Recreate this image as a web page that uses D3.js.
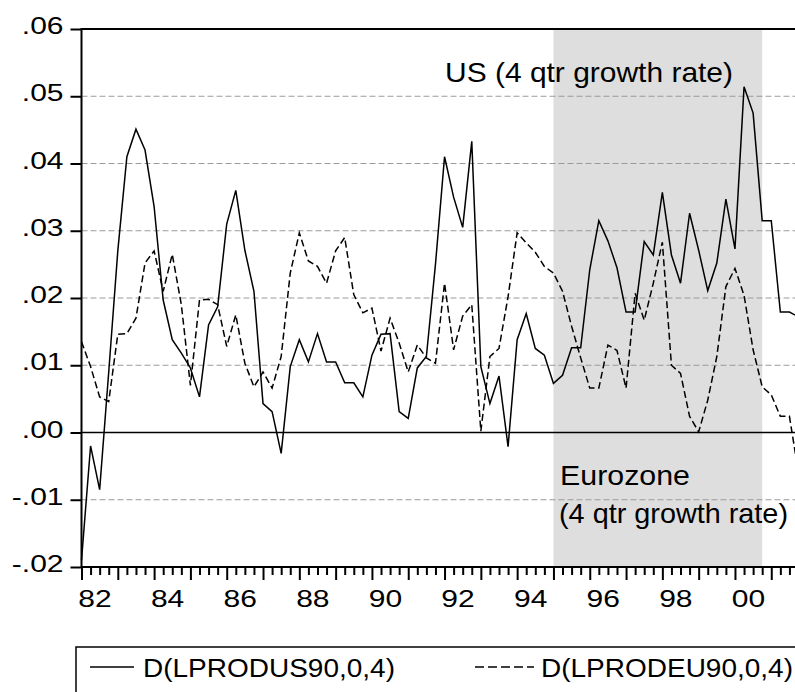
<!DOCTYPE html>
<html>
<head>
<meta charset="utf-8">
<script src="https://cdn.jsdelivr.net/npm/d3@7"></script>
<style>
  html, body { margin: 0; padding: 0; background: #fff; }
  svg { display: block; }
  text { font-family: "Liberation Sans", Arial, sans-serif; fill: #000; }
</style>
</head>
<body>
<svg id="chart" width="795" height="692"></svg>
<script>
// Quarterly observations, 1982Q1 .. 2001Q4 (year + (q-1)/4)
const startYear = 1982;
const nQuarters = 80;

// 4-quarter log growth of productivity, US
const usGrowth = [
  -0.0190, -0.0020, -0.0085, 0.0090, 0.0270, 0.0410, 0.0451, 0.0420,
   0.0336, 0.0197, 0.0138, 0.0118, 0.0096, 0.0053, 0.0160, 0.0187,
   0.0310, 0.0360, 0.0271, 0.0210, 0.0043, 0.0031, -0.0031, 0.0098,
   0.0138, 0.0105, 0.0147, 0.0105, 0.0105, 0.0074, 0.0074, 0.0053,
   0.0115, 0.0146, 0.0147, 0.0031, 0.0021, 0.0096, 0.0113, 0.0250,
   0.0410, 0.0350, 0.0305, 0.0433, 0.0098, 0.0043, 0.0084, -0.0021,
   0.0138, 0.0177, 0.0125, 0.0115, 0.0073, 0.0085, 0.0126, 0.0126,
   0.0242, 0.0315, 0.0285, 0.0245, 0.0179, 0.0179, 0.0284, 0.0264,
   0.0357, 0.0264, 0.0222, 0.0326, 0.0271, 0.0211, 0.0252, 0.0347,
   0.0273, 0.0514, 0.0475, 0.0315, 0.0315, 0.0179, 0.0179, 0.0172
];

// 4-quarter log growth of productivity, Eurozone
const euGrowth = [
   0.0135, 0.0098, 0.0053, 0.0046, 0.0146, 0.0147, 0.0170, 0.0252,
   0.0270, 0.0210, 0.0265, 0.0190, 0.0070, 0.0197, 0.0198, 0.0190,
   0.0128, 0.0175, 0.0103, 0.0068, 0.0090, 0.0066, 0.0113, 0.0237,
   0.0297, 0.0255, 0.0247, 0.0222, 0.0270, 0.0290, 0.0205, 0.0178,
   0.0185, 0.0121, 0.0170, 0.0133, 0.0090, 0.0130, 0.0111, 0.0103,
   0.0222, 0.0123, 0.0173, 0.0190, 0.0002, 0.0113, 0.0125, 0.0202,
   0.0297, 0.0282, 0.0268, 0.0247, 0.0237, 0.0210, 0.0158, 0.0111,
   0.0066, 0.0066, 0.0130, 0.0122, 0.0066, 0.0207, 0.0167, 0.0222,
   0.0283, 0.0100, 0.0088, 0.0024, 0.0001, 0.0048, 0.0113, 0.0217,
   0.0244, 0.0204, 0.0123, 0.0068, 0.0056, 0.0024, 0.0024, -0.0060
];

const yTickValues = [0.06, 0.05, 0.04, 0.03, 0.02, 0.01, 0.00, -0.01, -0.02];
const yTickLabels = [".06", ".05", ".04", ".03", ".02", ".01", ".00", "-.01", "-.02"];
const xLabelYears = [1982, 1984, 1986, 1988, 1990, 1992, 1994, 1996, 1998, 2000];
const xLabelTexts = ["82", "84", "86", "88", "90", "92", "94", "96", "98", "00"];
const shadedPeriod = [1995.0, 2000.75];
const seriesNames = ["D(LPRODUS90,0,4)", "D(LPRODEU90,0,4)"];
const annotations = ["US (4 qtr growth rate)", "Eurozone", "(4 qtr growth rate)"];

const quarters = d3.range(nQuarters).map(i => startYear + i / 4);
const usData = quarters.map((t, i) => ({ t, v: usGrowth[i] }));
const euData = quarters.map((t, i) => ({ t, v: euGrowth[i] }));

const svg = d3.select("#chart");
const plot = { left: 81.5, top: 29, right: 798.5, bottom: 567 };

const x = d3.scaleLinear()
  .domain([startYear, startYear + (nQuarters - 1) / 4])
  .range([plot.left, plot.right]);
const y = d3.scaleLinear()
  .domain([-0.02, 0.06])
  .range([plot.bottom, plot.top]);

svg.append("rect").attr("width", 795).attr("height", 692).attr("fill", "#fff");

// shaded window
svg.append("rect")
  .attr("x", x(shadedPeriod[0]))
  .attr("y", plot.top)
  .attr("width", x(shadedPeriod[1]) - x(shadedPeriod[0]))
  .attr("height", plot.bottom - plot.top)
  .attr("fill", "#dedede");

// dashed grid
svg.append("g")
  .selectAll("line")
  .data(yTickValues.filter(v => v !== 0 && v !== 0.06 && v !== -0.02))
  .join("line")
  .attr("x1", plot.left).attr("x2", plot.right)
  .attr("y1", d => y(d)).attr("y2", d => y(d))
  .attr("stroke", "#9a9a9a")
  .attr("stroke-width", 1)
  .attr("stroke-dasharray", "6,3");

// zero line
svg.append("line")
  .attr("x1", plot.left).attr("x2", plot.right)
  .attr("y1", y(0)).attr("y2", y(0))
  .attr("stroke", "#000").attr("stroke-width", 1.6);

// series
const line = d3.line().x(d => x(d.t)).y(d => y(d.v));
svg.append("path").datum(euData)
  .attr("d", line).attr("fill", "none")
  .attr("stroke", "#000").attr("stroke-width", 1.5)
  .attr("stroke-dasharray", "7,3.5");
svg.append("path").datum(usData)
  .attr("d", line).attr("fill", "none")
  .attr("stroke", "#000").attr("stroke-width", 1.5)
  .attr("stroke-linejoin", "miter");

// frame
svg.append("path")
  .attr("d", `M${plot.left},${plot.bottom}V${plot.top}H${plot.right}V${plot.bottom}Z`)
  .attr("fill", "none").attr("stroke", "#000").attr("stroke-width", 2);

// y axis ticks
const yAxis = d3.axisLeft(y).tickValues(yTickValues).tickSize(11).tickFormat("");
const gy = svg.append("g").attr("transform", `translate(${plot.left},0)`).call(yAxis);
gy.select(".domain").remove();
gy.selectAll(".tick line").attr("stroke", "#000").attr("stroke-width", 2);

const labelScale = 1.25;
svg.append("g").selectAll("text")
  .data(yTickValues)
  .join("text")
  .attr("transform", d => `translate(63.5,${y(d) + 5.2}) scale(${labelScale},1)`)
  .attr("text-anchor", "end")
  .attr("font-size", 24)
  .text((d, i) => yTickLabels[i]);

// x axis: quarterly minor ticks, yearly major ticks
const minorAxis = d3.axisBottom(x).tickValues(quarters.filter(t => t % 1 !== 0)).tickSize(8).tickFormat("");
const majorAxis = d3.axisBottom(x).tickValues(quarters.filter(t => t % 1 === 0)).tickSize(13).tickFormat("");
[minorAxis, majorAxis].forEach(ax => {
  const g = svg.append("g").attr("transform", `translate(0,${plot.bottom})`).call(ax);
  g.select(".domain").remove();
  g.selectAll(".tick line").attr("stroke", "#000").attr("stroke-width", 2);
});

svg.append("g").selectAll("text")
  .data(xLabelYears)
  .join("text")
  .attr("transform", d => `translate(${x(d) + 13.5},606.5) scale(${labelScale},1)`)
  .attr("text-anchor", "middle")
  .attr("font-size", 24)
  .text((d, i) => xLabelTexts[i]);

// annotations
svg.append("text").attr("x", 445).attr("y", 82).attr("font-size", 28)
  .attr("textLength", 288).attr("lengthAdjust", "spacingAndGlyphs").text(annotations[0]);
svg.append("text").attr("x", 560).attr("y", 485).attr("font-size", 28)
  .attr("textLength", 130).attr("lengthAdjust", "spacingAndGlyphs").text(annotations[1]);
svg.append("text").attr("x", 559).attr("y", 523).attr("font-size", 28)
  .attr("textLength", 229).attr("lengthAdjust", "spacingAndGlyphs").text(annotations[2]);

// legend
const legend = svg.append("g");
legend.append("rect").attr("x", 76).attr("y", 647).attr("width", 740).attr("height", 60)
  .attr("fill", "none").attr("stroke", "#000").attr("stroke-width", 1.5);
legend.append("line").attr("x1", 90).attr("x2", 134).attr("y1", 667).attr("y2", 667)
  .attr("stroke", "#000").attr("stroke-width", 1.5);
legend.append("text").attr("x", 143).attr("y", 677).attr("font-size", 26)
  .attr("textLength", 252).attr("lengthAdjust", "spacingAndGlyphs").text(seriesNames[0]);
legend.append("line").attr("x1", 475).attr("x2", 534).attr("y1", 667).attr("y2", 667)
  .attr("stroke", "#000").attr("stroke-width", 1.5).attr("stroke-dasharray", "9,4");
legend.append("text").attr("x", 541).attr("y", 677).attr("font-size", 26)
  .attr("textLength", 252).attr("lengthAdjust", "spacingAndGlyphs").text(seriesNames[1]);
</script>
</body>
</html>
